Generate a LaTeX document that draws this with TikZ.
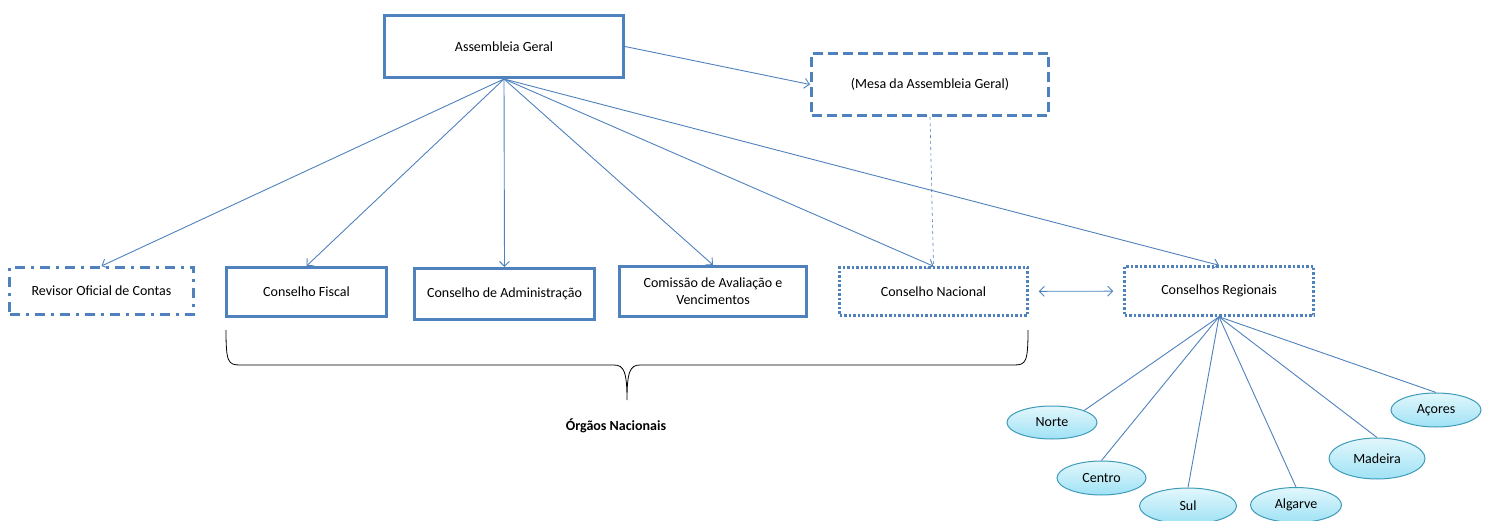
\documentclass[tikz,border=0pt]{standalone}
\usepackage{fontspec}
\setmainfont{Carlito}
\usetikzlibrary{positioning,arrows.meta,shapes.geometric}
\definecolor{boxblue}{HTML}{4F81BD}
\definecolor{regline}{HTML}{3E9BBA}
\definecolor{regtop}{HTML}{E2F7FC}
\definecolor{regbot}{HTML}{9FE2F5}

\begin{document}
\begin{tikzpicture}[x=1pt, y=-1pt, font=\fontsize{14}{17}\selectfont,
  box/.style={draw=boxblue, line width=3pt, align=center, inner sep=3pt},
  dashbox/.style={box, dash pattern=on 10pt off 5pt},
  dashdotbox/.style={box, dash pattern=on 10pt off 6pt on 3pt off 6pt},
  dotbox/.style={box, line width=2.5pt, dash pattern=on 2.5pt off 2pt},
  region/.style={ellipse, draw=regline, line width=1pt, top color=regtop,
                 bottom color=regbot, inner sep=0pt},
  arr/.style={-{Straight Barb[length=5pt,width=10pt]}, draw=boxblue, line width=0.9pt},
  dblarr/.style={{Straight Barb[length=5pt,width=10pt]}-{Straight Barb[length=5pt,width=10pt]},
                 draw=boxblue, line width=0.9pt},
  link/.style={draw=boxblue, line width=0.9pt}]
\useasboundingbox (0,0) rectangle (1489,521);
% top level
\node[box, minimum width=239pt, minimum height=62pt] (ag) at (504,46.5) {Assembleia Geral};
\node[dashbox, minimum width=237pt, minimum height=62pt] (mesa) at (930,84.5)
  {(Mesa da Assembleia Geral)};
% national bodies
\node[dashdotbox, minimum width=184pt, minimum height=47pt] (roc) at (101.5,291)
  {Revisor Oficial de Contas};
\node[box, minimum width=160pt, minimum height=49pt] (cf) at (306.5,292) {Conselho Fiscal};
\node[box, minimum width=180pt, minimum height=51pt] (ca) at (504.5,294)
  {Conselho de Administração};
\node[box, minimum width=187pt, minimum height=50pt] (cav) at (713,291.5)
  {Comissão de Avaliação e\\Vencimentos};
\node[dotbox, minimum width=188pt, minimum height=48pt] (cn) at (933.5,291.5)
  {Conselho Nacional};
\node[dotbox, minimum width=189pt, minimum height=49pt] (cr) at (1219,291)
  {Conselhos Regionais};
% regions
\node[region, minimum width=90pt, minimum height=33pt] (norte) at (1052,422.5) {Norte};
\node[region, minimum width=89pt, minimum height=34pt] (centro) at (1101.5,478) {Centro};
\node[region, minimum width=97pt, minimum height=36pt] (sul) at (1188,506) {Sul};
\node[region, minimum width=91pt, minimum height=35pt] (algarve) at (1296,505) {Algarve};
\node[region, minimum width=96pt, minimum height=41pt] (madeira) at (1377,458.5) {Madeira};
\node[region, minimum width=90pt, minimum height=34pt] (acores) at (1436,410) {Açores};
\node[font=\fontsize{14}{17}\selectfont\bfseries] (orgaos) at (616,426) {Órgãos Nacionais};

\draw[arr] (ag.east) -- (mesa.west);
\foreach \n in {roc,cf,ca,cav,cn,cr}
  \draw[arr] (ag.south) -- (\n.north);
\draw[link, dashed, line width=0.6pt] (mesa.south) -- (cn.north);
\draw[dblarr, shorten <=10pt, shorten >=10pt] (cn) -- (cr);
\draw[link] (cr.south) -- (norte.north east);
\foreach \n in {centro,sul,algarve,madeira,acores}
  \draw[link] (cr.south) -- (\n.north);
% brace under the national bodies
\draw[line width=0.8pt] (226,330) .. controls (226,362) and (228,365) .. (240,365)
  -- (614,365) .. controls (624,365) and (627,372) .. (627,400)
  .. controls (627,372) and (630,365) .. (640,365)
  -- (1014,365) .. controls (1026,365) and (1028,362) .. (1028,330);
\end{tikzpicture}
\end{document}
